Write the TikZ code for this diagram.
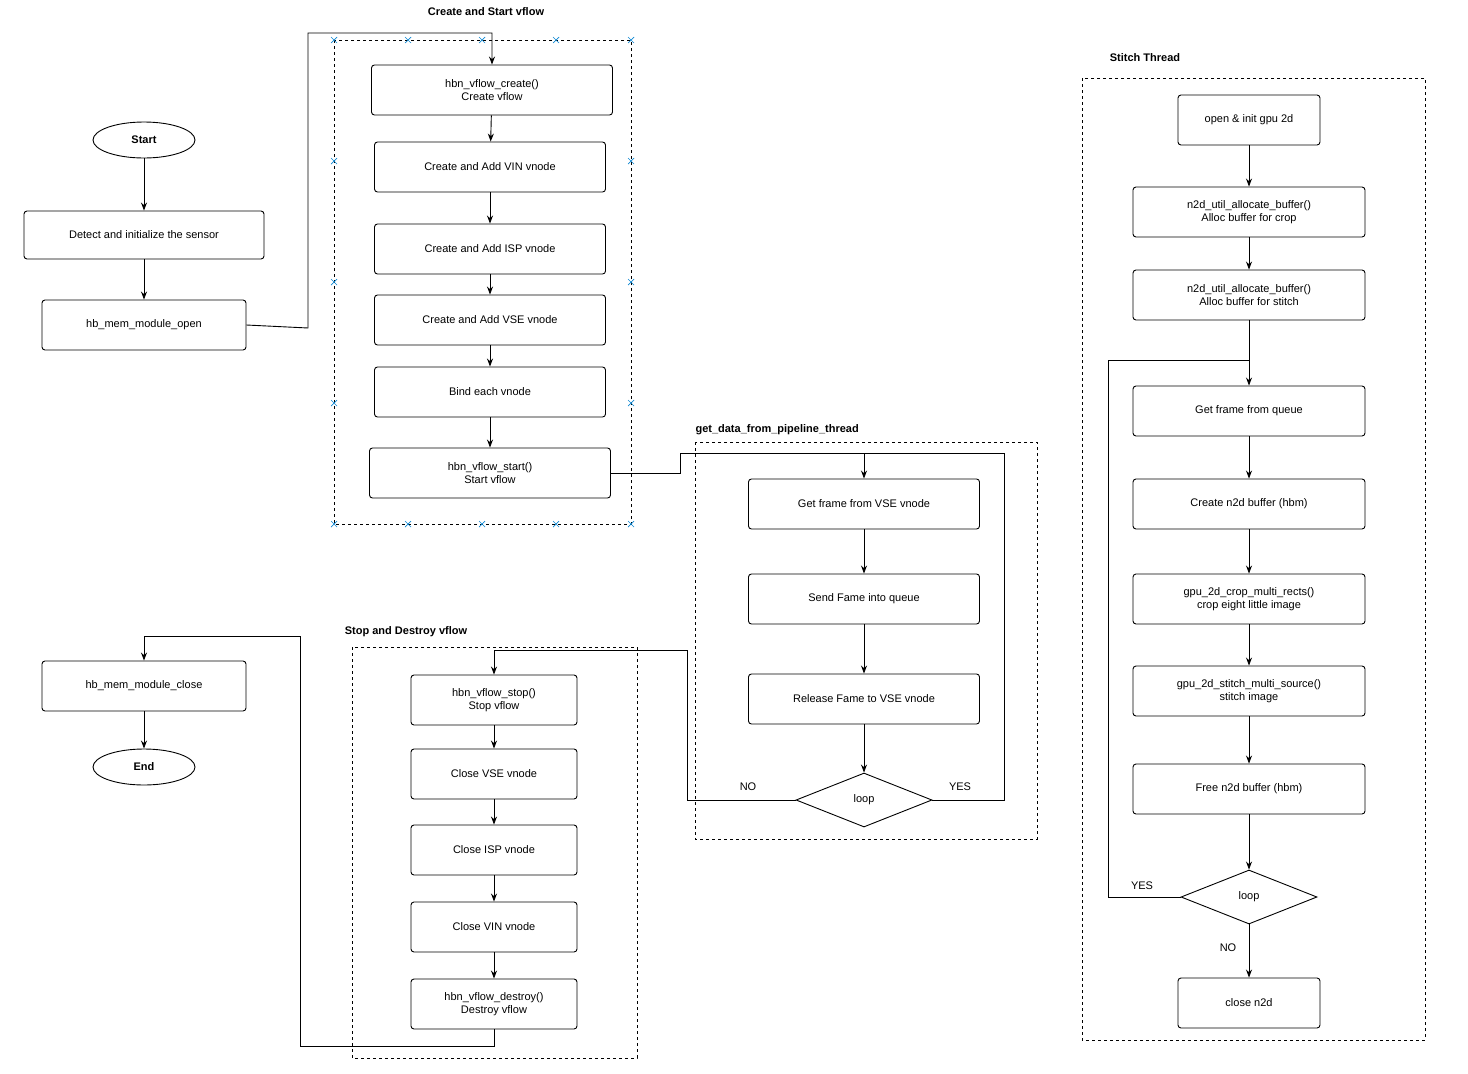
\documentclass[tikz,border=0pt]{standalone}
\usepackage{fontspec}
\setmainfont{Liberation Sans}
\usetikzlibrary{arrows.meta,positioning,shapes.geometric}

\begin{document}
\begin{tikzpicture}[
    x=1pt, y=-1pt,
    font=\fontsize{11}{13}\selectfont,
    procbox/.style={rectangle, draw, rounded corners=3pt, line width=0.9pt, minimum height=50pt, align=center, inner sep=1pt},
    termnode/.style={ellipse, draw, line width=0.9pt, minimum width=102pt, minimum height=36pt, font=\fontsize{11}{13}\selectfont\bfseries},
    decision/.style={diamond, draw, line width=0.9pt, minimum width=136pt, minimum height=54pt, inner sep=0pt, aspect=2.5},
    groupbox/.style={draw, dashed, line width=0.8pt},
    grouptitle/.style={font=\fontsize{11}{13}\selectfont\bfseries},
    flow/.style={-{Stealth[length=8pt,width=6pt]}, line width=0.9pt},
    xmark/.style={draw=cyan!70!blue, line width=0.7pt},
]
    \useasboundingbox (0,0) rectangle (1468,1074);

    % groups
    \draw[groupbox] (334,40) rectangle (631,524);
    \node[grouptitle] (tCreate) at (486,12) {Create and Start vflow};
    \foreach \p in {334,408,482,556,631} {
        \draw[xmark] (\p-3,37) -- (\p+3,43) (\p-3,43) -- (\p+3,37);
        \draw[xmark] (\p-3,521) -- (\p+3,527) (\p-3,527) -- (\p+3,521);
    }
    \foreach \q in {161,282,403} {
        \draw[xmark] (331,\q-3) -- (337,\q+3) (331,\q+3) -- (337,\q-3);
        \draw[xmark] (628,\q-3) -- (634,\q+3) (628,\q+3) -- (634,\q-3);
    }
    \draw[groupbox] (695,442) rectangle (1037,839);
    \node[grouptitle, anchor=west] (tPipe) at (692,430) {get\_data\_from\_pipeline\_thread};
    \draw[groupbox] (352,647) rectangle (637,1058);
    \node[grouptitle] (tStop) at (406,632) {Stop and Destroy vflow};
    \draw[groupbox] (1082,78) rectangle (1425,1040);
    \node[grouptitle] (tStitch) at (1145,58) {Stitch Thread};

    % main
    \node[termnode] (start) at (144,140) {Start};
    \node[procbox, minimum width=240pt, minimum height=48pt] (detect) at (144,235) {Detect and initialize the sensor};
    \node[procbox, minimum width=204pt] (memopen) at (144,325) {hb\_mem\_module\_open};
    \node[procbox, minimum width=204pt] (memclose) at (144,686) {hb\_mem\_module\_close};
    \node[termnode] (end) at (144,767) {End};

    % create and start
    \node[procbox, minimum width=241pt] (create) at (492,90) {hbn\_vflow\_create()\\Create vflow};
    \node[procbox, minimum width=231pt] (vin) at (490,167) {Create and Add VIN vnode};
    \node[procbox, minimum width=231pt] (isp) at (490,249) {Create and Add ISP vnode};
    \node[procbox, minimum width=231pt] (vse) at (490,320) {Create and Add VSE vnode};
    \node[procbox, minimum width=231pt] (bind) at (490,392) {Bind each vnode};
    \node[procbox, minimum width=241pt] (vstart) at (490,473) {hbn\_vflow\_start()\\Start vflow};

    % pipeline thread
    \node[procbox, minimum width=231pt] (getvse) at (864,504) {Get frame from VSE vnode};
    \node[procbox, minimum width=231pt] (send) at (864,599) {Send Fame into queue};
    \node[procbox, minimum width=231pt] (release) at (864,699) {Release Fame to VSE vnode};
    \node[decision] (loopA) at (864,800) {loop};

    % stop and destroy
    \node[procbox, minimum width=166pt] (vstop) at (494,700) {hbn\_vflow\_stop()\\Stop vflow};
    \node[procbox, minimum width=166pt] (cvse) at (494,774) {Close VSE vnode};
    \node[procbox, minimum width=166pt] (cisp) at (494,850) {Close ISP vnode};
    \node[procbox, minimum width=166pt] (cvin) at (494,927) {Close VIN vnode};
    \node[procbox, minimum width=166pt] (destroy) at (494,1004) {hbn\_vflow\_destroy()\\Destroy vflow};

    % stitch thread
    \node[procbox, minimum width=142pt] (gpuopen) at (1249,120) {open \& init gpu 2d};
    \node[procbox, minimum width=232pt] (acrop) at (1249,212) {n2d\_util\_allocate\_buffer()\\Alloc buffer for crop};
    \node[procbox, minimum width=232pt] (astitch) at (1249,295) {n2d\_util\_allocate\_buffer()\\Alloc buffer for stitch};
    \node[procbox, minimum width=232pt] (getq) at (1249,411) {Get frame from queue};
    \node[procbox, minimum width=232pt] (mkbuf) at (1249,504) {Create n2d buffer (hbm)};
    \node[procbox, minimum width=232pt] (crop) at (1249,599) {gpu\_2d\_crop\_multi\_rects()\\crop eight little image};
    \node[procbox, minimum width=232pt] (stitch) at (1249,691) {gpu\_2d\_stitch\_multi\_source()\\stitch image};
    \node[procbox, minimum width=232pt] (freebuf) at (1249,789) {Free n2d buffer (hbm)};
    \node[decision] (loopB) at (1249,897) {loop};
    \node[procbox, minimum width=142pt] (n2dclose) at (1249,1003) {close n2d};

    % connectors
    \draw[flow] (start) -- (detect);
    \draw[flow] (detect) -- (memopen);
    \draw[flow] (memopen.east) -- (308,328) |- (492,33) -- (create.north);
    \draw[flow] (create) -- (vin);
    \draw[flow] (vin) -- (isp);
    \draw[flow] (isp) -- (vse);
    \draw[flow] (vse) -- (bind);
    \draw[flow] (bind) -- (vstart);
    \draw[flow] (vstart.east) -- (680,473) |- (864,453) -- (getvse.north);
    \draw[flow] (getvse) -- (send);
    \draw[flow] (send) -- (release);
    \draw[flow] (release) -- (loopA);
    \draw[line width=0.9pt] (loopA.east) -- (1004,800) |- (864,453);
    \node (yesA) at (960,787) {YES};
    \draw[flow] (loopA.west) -- (687,800) |- (494,650) -- (vstop.north);
    \node (noA) at (748,787) {NO};
    \draw[flow] (vstop) -- (cvse);
    \draw[flow] (cvse) -- (cisp);
    \draw[flow] (cisp) -- (cvin);
    \draw[flow] (cvin) -- (destroy);
    \draw[flow] (destroy.south) -- (494,1046) -| (300,636) -| (memclose.north);
    \draw[flow] (memclose) -- (end);

    \draw[flow] (gpuopen) -- (acrop);
    \draw[flow] (acrop) -- (astitch);
    \draw[flow] (astitch) -- (getq);
    \draw[flow] (getq) -- (mkbuf);
    \draw[flow] (mkbuf) -- (crop);
    \draw[flow] (crop) -- (stitch);
    \draw[flow] (stitch) -- (freebuf);
    \draw[flow] (freebuf) -- (loopB);
    \draw[line width=0.9pt] (loopB.west) -- (1108,897) |- (1249,360);
    \node (yesB) at (1142,886) {YES};
    \draw[flow] (loopB) -- (n2dclose);
    \node (noB) at (1228,948) {NO};
\end{tikzpicture}
\end{document}
